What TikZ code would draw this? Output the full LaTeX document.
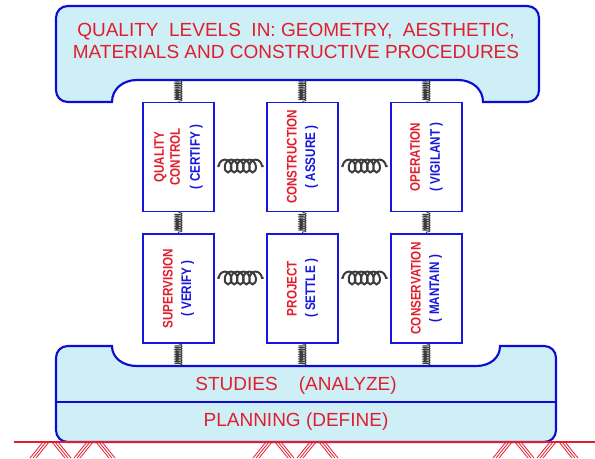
\documentclass[tikz,border=0pt]{standalone}
\usepackage{fontspec}
\setmainfont{Liberation Sans}
\newfontfamily\stagefont[FakeStretch=0.84]{Liberation Sans}
\usetikzlibrary{decorations.pathmorphing}

\definecolor{qred}{RGB}{226,30,45}
\definecolor{qblue}{RGB}{22,22,222}
\definecolor{slabfill}{RGB}{206,239,246}
\definecolor{slabedge}{RGB}{12,12,212}
\definecolor{springgray}{RGB}{60,60,60}

\tikzset{every picture/.style={line width=0.75pt}}
\tikzset{
  slab/.style={draw=slabedge, line width=1.6pt, fill=slabfill},
  stage/.style={draw=qblue, line width=1.2pt, fill=white, minimum width=53pt, minimum height=82pt, inner sep=0pt},
  stagetext/.style={rotate=90, align=center, inner sep=0.75pt, font=\stagefont\fontsize{10.4}{12}\selectfont\bfseries},
  slabtext/.style={align=center, inner sep=0.75pt, text=qred, font=\fontsize{14.25}{16.5}\selectfont},
  hspring/.style={draw=springgray, line width=1.5pt, decorate, decoration={coil, amplitude=4.8pt, segment length=4.6pt, aspect=0.75, pre length=1pt, post length=1pt}},
  vspring/.style={draw=springgray, line width=0.6pt, decorate, decoration={coil, amplitude=2.6pt, segment length=1.3pt, aspect=0.2}},
  hatch/.style={draw=qred, line width=0.6pt}
}

\begin{document}
\begin{tikzpicture}[x=0.75pt,y=0.75pt,yscale=-1,xscale=1]
\useasboundingbox (0,0) rectangle (595,458);

%Shape: Top slab
\draw [slab] (68,6) -- (527,6) .. controls (534,6) and (539,11) .. (539,18) -- (539,90) .. controls (539,97) and (534,102) .. (527,102) -- (483,102) .. controls (483,89) and (472,80) .. (458,80) -- (137,80) .. controls (123,80) and (112,89) .. (112,102) -- (68,102) .. controls (61,102) and (56,97) .. (56,90) -- (56,18) .. controls (56,11) and (61,6) .. (68,6) -- cycle ;
\coordinate (topnotch) at (296,80);

%Shape: Bottom slab
\draw [slab] (68,346) -- (112,346) .. controls (112,358) and (123,366) .. (137,366) -- (476,366) .. controls (490,366) and (500,358) .. (500,346) -- (544,346) .. controls (551,346) and (556,351) .. (556,358) -- (556,430) .. controls (556,437) and (551,442) .. (544,442) -- (68,442) .. controls (61,442) and (56,437) .. (56,430) -- (56,358) .. controls (56,351) and (61,346) .. (68,346) -- cycle ;
\draw [slabedge, line width=1.6pt] (56,402) -- (556,402) ;
\coordinate (botnotch) at (296,366);

%Ground
\draw [qred, line width=1.2pt] (14,442) -- (595,442) ;
\foreach \gx in {30,253,493}{
  \foreach \k in {0,3,6}{
    \draw [hatch] (\gx+\k,458) -- (\gx+\k+13,442) ;
    \draw [hatch] (\gx+\k+22,442) -- (\gx+\k+35,458) ;
    \draw [hatch] (\gx+\k+44,458) -- (\gx+\k+57,442) ;
    \draw [hatch] (\gx+\k+66,442) -- (\gx+\k+79,458) ;
  }
}

%Stages
\node [stage] (qc) at (178.5,157) {};
\node [stage] (cn) at (302.5,157) {};
\node [stage] (op) at (426.5,157) {};
\node [stage] (sv) at (178.5,288.5) {};
\node [stage] (pj) at (302.5,288.5) {};
\node [stage] (cs) at (426.5,288.5) {};

%Springs
\foreach \s in {qc,cn,op}{
  \draw [vspring] (\s.north |- topnotch) -- (\s.north) ;
}
\draw [vspring] (qc.south) -- (sv.north) ;
\draw [vspring] (cn.south) -- (pj.north) ;
\draw [vspring] (op.south) -- (cs.north) ;
\foreach \s in {sv,pj,cs}{
  \draw [vspring] (\s.south) -- (\s.south |- botnotch) ;
}
\draw [hspring] ([xshift=2pt,yshift=6.75pt]qc.east) -- ([xshift=-2pt,yshift=6.75pt]cn.west) ;
\draw [hspring] ([xshift=2pt,yshift=6.75pt]cn.east) -- ([xshift=-2pt,yshift=6.75pt]op.west) ;
\draw [hspring] ([xshift=2pt,yshift=-7.9pt]sv.east) -- ([xshift=-2pt,yshift=-7.9pt]pj.west) ;
\draw [hspring] ([xshift=2pt,yshift=-7.9pt]pj.east) -- ([xshift=-2pt,yshift=-7.9pt]cs.west) ;

% Text Node
\node [slabtext] (quality) at (296,41) {QUALITY\ \ LEVELS\ \ IN: GEOMETRY,\ \ AESTHETIC,\\MATERIALS AND CONSTRUCTIVE PROCEDURES};
% Text Node
\node [slabtext] (studies) at (296,386) {STUDIES\ \ \ \ (ANALYZE)};
% Text Node
\node [slabtext] (planning) at (296,422) {PLANNING (DEFINE)};

% Text Node
\node [stagetext] (qc-t) at (qc) {\textcolor{qred}{QUALITY}\\\textcolor{qred}{CONTROL}\\[3pt]\textcolor{qblue}{( CERTIFY )}};
% Text Node
\node [stagetext] (cn-t) at (cn) {\textcolor{qred}{CONSTRUCTION}\\[2pt]\textcolor{qblue}{( ASSURE )}};
% Text Node
\node [stagetext] (op-t) at (op) {\textcolor{qred}{OPERATION}\\[3pt]\textcolor{qblue}{( VIGILANT )}};
% Text Node
\node [stagetext] (sv-t) at (sv) {\textcolor{qred}{SUPERVISION}\\[2pt]\textcolor{qblue}{( VERIFY )}};
% Text Node
\node [stagetext] (pj-t) at (pj) {\textcolor{qred}{PROJECT}\\[2pt]\textcolor{qblue}{( SETTLE )}};
% Text Node
\node [stagetext] (cs-t) at (cs) {\textcolor{qred}{CONSERVATION}\\[2pt]\textcolor{qblue}{( MANTAIN )}};
\end{tikzpicture}
\end{document}
